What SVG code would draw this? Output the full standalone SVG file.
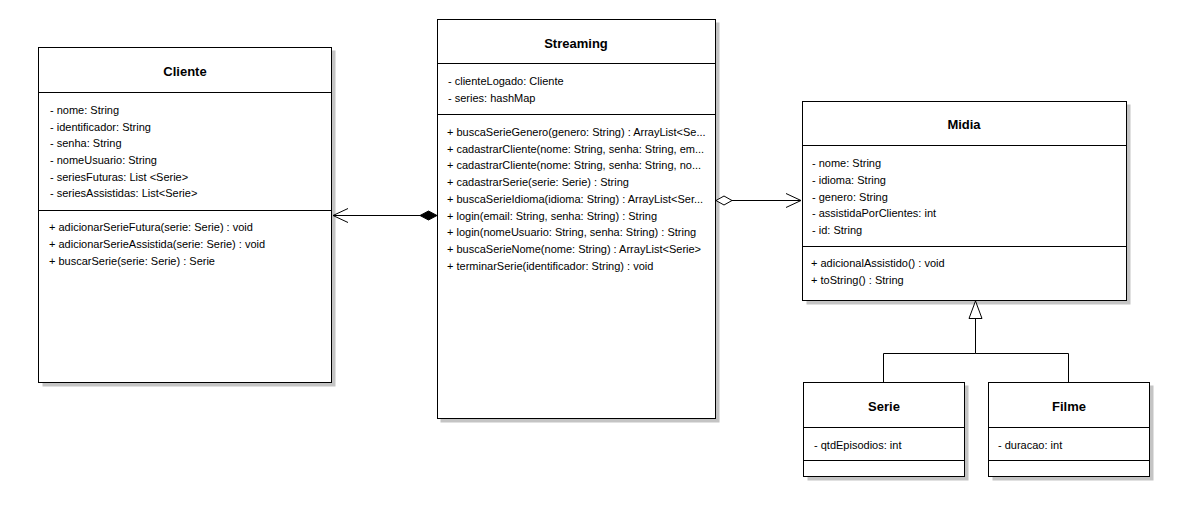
<svg xmlns="http://www.w3.org/2000/svg" width="1177" height="520" viewBox="0 0 1177 520">
<style>
.shadow{fill:#c4c4c4}
.box{fill:#ffffff;stroke:#000000;stroke-width:1}
.sep{stroke:#000000;stroke-width:1}
.title{font-family:"Liberation Sans",Arial,sans-serif;font-size:13px;font-weight:bold;text-anchor:middle;fill:#000}
.t{font-family:"Liberation Sans",Arial,sans-serif;font-size:11px;fill:#000}
.ln{stroke:#000;stroke-width:1;fill:none}
</style>
<rect width="1177" height="520" fill="#ffffff"/>
<g id="Cliente">
<rect class="shadow" x="42.5" y="50.5" width="293" height="336"/>
<rect class="box" x="38.5" y="47.5" width="293" height="335"/>
<line class="sep" x1="38.5" y1="92.5" x2="331.5" y2="92.5"/>
<line class="sep" x1="38.5" y1="210.5" x2="331.5" y2="210.5"/>
<text class="title" x="185" y="76">Cliente</text>
<text class="t" x="50" y="114">- nome: String</text>
<text class="t" x="50" y="131">- identificador: String</text>
<text class="t" x="50" y="147">- senha: String</text>
<text class="t" x="50" y="164">- nomeUsuario: String</text>
<text class="t" x="50" y="181">- seriesFuturas: List &lt;Serie&gt;</text>
<text class="t" x="50" y="197">- seriesAssistidas: List&lt;Serie&gt;</text>
<text class="t" x="49" y="231">+ adicionarSerieFutura(serie: Serie) : void</text>
<text class="t" x="49" y="248">+ adicionarSerieAssistida(serie: Serie) : void</text>
<text class="t" x="49" y="265">+ buscarSerie(serie: Serie) : Serie</text>
</g>
<g id="Streaming">
<rect class="shadow" x="440.5" y="22.5" width="279" height="400"/>
<rect class="box" x="437.5" y="19.5" width="278" height="399"/>
<line class="sep" x1="437.5" y1="63.5" x2="715.5" y2="63.5"/>
<line class="sep" x1="437.5" y1="114.5" x2="715.5" y2="114.5"/>
<text class="title" x="576" y="48">Streaming</text>
<text class="t" x="448" y="85">- clienteLogado: Cliente</text>
<text class="t" x="448" y="102">- series: hashMap</text>
<text class="t" x="447" y="136">+ buscaSerieGenero(genero: String) : ArrayList&lt;Se...</text>
<text class="t" x="447" y="153">+ cadastrarCliente(nome: String, senha: String, em...</text>
<text class="t" x="447" y="169">+ cadastrarCliente(nome: String, senha: String, no...</text>
<text class="t" x="447" y="186">+ cadastrarSerie(serie: Serie) : String</text>
<text class="t" x="447" y="203">+ buscaSerieIdioma(idioma:  String) :  ArrayList&lt;Ser...</text>
<text class="t" x="447" y="220">+ login(email: String, senha: String) : String</text>
<text class="t" x="447" y="236">+ login(nomeUsuario: String, senha: String) : String</text>
<text class="t" x="447" y="253">+ buscaSerieNome(nome: String) : ArrayList&lt;Serie&gt;</text>
<text class="t" x="447" y="270">+ terminarSerie(identificador: String) : void</text>
</g>
<g id="Midia">
<rect class="shadow" x="806.5" y="104.5" width="324" height="200"/>
<rect class="box" x="802.5" y="101.5" width="324" height="199"/>
<line class="sep" x1="802.5" y1="145.5" x2="1126.5" y2="145.5"/>
<line class="sep" x1="802.5" y1="246.5" x2="1126.5" y2="246.5"/>
<text class="title" x="964" y="129">Midia</text>
<text class="t" x="812" y="167">- nome: String</text>
<text class="t" x="812" y="184">- idioma: String</text>
<text class="t" x="812" y="201">- genero: String</text>
<text class="t" x="812" y="217">- assistidaPorClientes: int</text>
<text class="t" x="812" y="234">- id: String</text>
<text class="t" x="811" y="267">+ adicionalAssistido() : void</text>
<text class="t" x="811" y="284">+ toString() : String</text>
</g>
<g id="Serie">
<rect class="shadow" x="807.5" y="385.5" width="161" height="95"/>
<rect class="box" x="803.5" y="382.5" width="161" height="94"/>
<line class="sep" x1="803.5" y1="427.5" x2="964.5" y2="427.5"/>
<line class="sep" x1="803.5" y1="460.5" x2="964.5" y2="460.5"/>
<text class="title" x="884" y="411">Serie</text>
<text class="t" x="814" y="449">- qtdEpisodios: int</text>
</g>
<g id="Filme">
<rect class="shadow" x="992.5" y="385.5" width="161" height="95"/>
<rect class="box" x="988.5" y="382.5" width="161" height="94"/>
<line class="sep" x1="988.5" y1="427.5" x2="1149.5" y2="427.5"/>
<line class="sep" x1="988.5" y1="460.5" x2="1149.5" y2="460.5"/>
<text class="title" x="1069" y="411">Filme</text>
<text class="t" x="998" y="449">- duracao: int</text>
</g>
<g id="connectors">
<line class="ln" x1="333" y1="215.5" x2="420" y2="215.5"/>
<polyline class="ln" points="348,208.5 333,215.5 348,222.5"/>
<polygon points="437,215.5 428.5,211 420,215.5 428.5,220" fill="#000" stroke="#000"/>
<line class="ln" x1="732" y1="200.5" x2="801" y2="200.5"/>
<polyline class="ln" points="786,193.5 801,200.5 786,207.5"/>
<polygon points="716,200.5 724,196 732,200.5 724,205" fill="#fff" stroke="#000"/>
<polygon points="975.5,301 969,318.5 982,318.5" fill="#fff" stroke="#000"/>
<polyline class="ln" points="975.5,318.5 975.5,353.5 883.5,353.5 883.5,382"/>
<polyline class="ln" points="975.5,353.5 1068.5,353.5 1068.5,382"/>
</g>
</svg>
